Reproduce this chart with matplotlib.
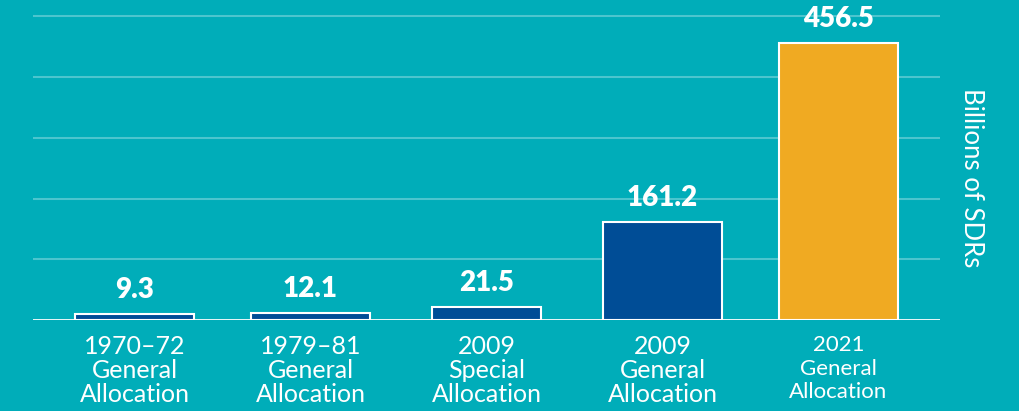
import matplotlib.pyplot as plt

categories = ["1970\u201372\nGeneral\nAllocation", "1979\u201381\nGeneral\nAllocation",
              "2009\nSpecial\nAllocation", "2009\nGeneral\nAllocation",
              "2021\nGeneral\nAllocation"]
values = [9.3, 12.1, 21.5, 161.2, 456.5]
value_labels = ["9.3", "12.1", "21.5", "161.2", "456.5"]
grid_values = [100, 200, 300, 400, 500]

BG = "#00adb9"
BLUE = "#004d96"
ORANGE = "#f0aa22"

fig = plt.figure(figsize=(10.2, 4.11), dpi=100, facecolor=BG)
ax = fig.add_axes([33 / 1020, 91 / 411, 907 / 1020, 320 / 411])
ax.set_facecolor(BG)

xs = list(range(len(values)))
widths = [0.676, 0.676, 0.62, 0.676, 0.676]
colors = [BLUE, BLUE, BLUE, BLUE, ORANGE]

for g in grid_values:
    ax.axhline(g, color="white", alpha=0.3, lw=1.5, zorder=0)

ax.bar(xs, values, width=widths, color=colors, edgecolor="white", linewidth=1.5, zorder=2)
ax.axhline(0, color="white", lw=2, zorder=3)

for x, v, lab in zip(xs, values, value_labels):
    ax.annotate(lab, (x, v), xytext=(0, 8), textcoords="offset points",
                ha="center", va="bottom", color="white", fontsize=20,
                fontweight="heavy", family="Lato")

ax.set_xlim(-0.577, 4.577)
ax.set_ylim(0, 527)
ax.set_yticks([])
ax.set_xticks(xs)
ax.set_xticklabels(categories, color="white", fontsize=18, family="Lato", linespacing=1.05)
ax.tick_params(axis="x", length=0, pad=11)
# last label is set a bit smaller but spans the same block
last = ax.get_xticklabels()[-1]
last.set_fontsize(16)
last.set_linespacing(1.22)
for s in ax.spines.values():
    s.set_visible(False)

fig.text(972 / 1020, 1 - 178 / 411, "Billions of SDRs", rotation=270, color="white",
         fontsize=18.5, family="Lato", ha="center", va="center")

fig.savefig("out.png", facecolor=BG)
